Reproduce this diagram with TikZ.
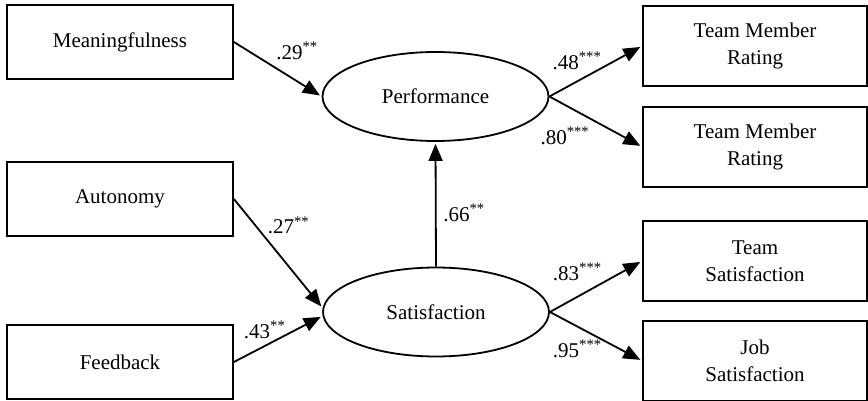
\documentclass[tikz,border=0pt]{standalone}
\usepackage{fontspec}
\setmainfont{Liberation Serif}
\usetikzlibrary{arrows.meta,positioning,shapes.geometric}
\newcommand{\sig}[1]{\textsuperscript{#1}}

\begin{document}
\begin{tikzpicture}[
  x=0.5pt, y=-0.5pt,
  every node/.style={font=\fontsize{10.5}{13.5}\selectfont},
  varbox/.style={draw, line width=0.9pt, minimum width=113pt, minimum height=37pt, align=center},
  outbox/.style={draw, line width=0.9pt, minimum width=112pt, minimum height=40pt, align=center},
  latent/.style={draw, ellipse, line width=0.9pt, minimum width=113pt, minimum height=44.5pt, inner sep=0pt},
  arr/.style={-{Triangle[length=8.5pt,width=7pt]}, line width=0.9pt, shorten >=1pt}
]
  \useasboundingbox (0,0) rectangle (868,401);

  % predictors
  \node[varbox] (mean) at (120,42) {Meaningfulness};
  \node[varbox] (auto) at (120,199) {Autonomy};
  \node[varbox] (feed) at (120,362) {Feedback};

  % latent outcomes
  \node[latent] (perf) at (435.5,96.5) {Performance};
  \node[latent] (sat) at (436,312) {Satisfaction};

  % indicators
  \node[outbox] (tmra) at (755,46) {Team Member\\Rating};
  \node[outbox, below=9.5pt of tmra] (tmrb) {Team Member\\Rating};
  \node[outbox] (tsat) at (755,261) {Team\\Satisfaction};
  \node[outbox, below=9pt of tsat] (jsat) {Job\\Satisfaction};

  \draw[arr] (mean.east) -- node[pos=0.45, above right, inner sep=1pt, yshift=2pt] {.29\sig{**}} (perf.west);
  \draw[arr] (auto.east) -- node[pos=0.35, above right, inner sep=1pt] {.27\sig{**}} (sat.178);
  \draw[arr] (feed.east) -- node[pos=0.35, above] {.43\sig{**}} (sat.182);
  \draw[arr] (sat.north) -- node[pos=0.43, right] {.66\sig{**}} (perf.south);

  \draw[arr] (perf.east) -- node[pos=0.3, above=2pt] {.48\sig{***}} (tmra.west);
  \draw[arr] (perf.east) -- node[pos=0.17, below=7pt] {.80\sig{***}} (tmrb.west);
  \draw[arr] (sat.east) -- node[pos=0.3, above=4pt] {.83\sig{***}} (tsat.west);
  \draw[arr] (sat.east) -- node[pos=0.3, below=3pt] {.95\sig{***}} (jsat.west);
\end{tikzpicture}
\end{document}
